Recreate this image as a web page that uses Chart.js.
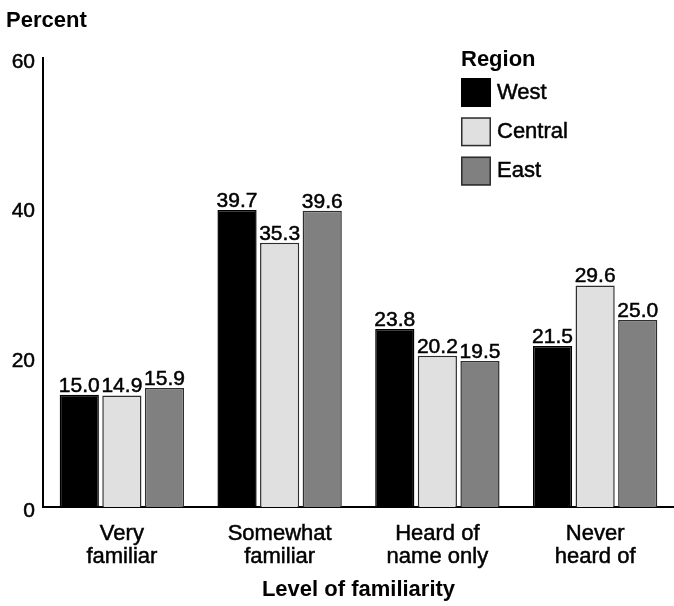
<!DOCTYPE html>
<html>
<head>
<meta charset="utf-8">
<script src="https://cdn.jsdelivr.net/npm/chart.js@4"></script>
<style>
  html, body { margin: 0; padding: 0; background: #ffffff; }
  #wrap { width: 674px; height: 606px; position: relative; }
</style>
</head>
<body>
<div id="wrap"><canvas id="chart" width="674" height="606"></canvas></div>
<script>
// Familiarity by region, in percent
const categories = [
  ['Very', 'familiar'],
  ['Somewhat', 'familiar'],
  ['Heard of', 'name only'],
  ['Never', 'heard of']
];
const regions = ['West', 'Central', 'East'];
const westValues = [15.0, 39.7, 23.8, 21.5];
const centralValues = [14.9, 35.3, 20.2, 29.6];
const eastValues = [15.9, 39.6, 19.5, 25.0];
const yTicks = [0, 20, 40, 60];

const regionFills = ['#000000', '#e0e0e0', '#808080'];
const regionBorders = ['#000000', '#2e2e2e', '#2e2e2e'];
const FONT = '"Liberation Sans", Arial, Helvetica, sans-serif';
const STROKE = 0.5;

const seriesValues = [westValues, centralValues, eastValues];

function heavyText(ctx, text, x, y) {
  ctx.fillText(text, x, y);
  ctx.strokeText(text, x, y);
}

// value labels above each bar
const barLabels = {
  id: 'barLabels',
  afterDatasetsDraw(chart) {
    const ctx = chart.ctx;
    ctx.save();
    ctx.font = '21px ' + FONT;
    ctx.fillStyle = '#000';
    ctx.strokeStyle = '#000';
    ctx.lineWidth = STROKE;
    ctx.textAlign = 'center';
    ctx.textBaseline = 'alphabetic';
    chart.data.datasets.forEach((ds, i) => {
      const meta = chart.getDatasetMeta(i);
      meta.data.forEach((bar, j) => {
        heavyText(ctx, ds.data[j].toFixed(1), bar.x, bar.y - 3);
      });
    });
    ctx.restore();
  }
};

// vertical axis caption and the region key
const extras = {
  id: 'extras',
  afterDraw(chart) {
    const ctx = chart.ctx;
    ctx.save();
    ctx.fillStyle = '#000';
    ctx.textAlign = 'left';
    ctx.textBaseline = 'alphabetic';
    ctx.font = 'bold 22px ' + FONT;
    ctx.fillText('Percent', 6, 27);

    const kx = 461, top0 = 78, step = 39.3;
    ctx.fillText('Region', kx, 66);
    ctx.font = '22px ' + FONT;
    chart.data.datasets.forEach((ds, i) => {
      const y = top0 + i * step;
      ctx.fillStyle = ds.backgroundColor;
      ctx.fillRect(kx, y, 30, 29);
      ctx.strokeStyle = ds.borderColor;
      ctx.lineWidth = 1.5;
      ctx.strokeRect(kx + 0.75, y + 0.75, 28.5, 27.5);
      ctx.fillStyle = '#000';
      ctx.strokeStyle = '#000';
      ctx.lineWidth = STROKE;
      heavyText(ctx, ds.label, kx + 36, y + 20.5);
    });
    ctx.restore();
  }
};

new Chart(document.getElementById('chart'), {
  type: 'bar',
  data: {
    labels: categories,
    datasets: regions.map((name, i) => ({
      label: name,
      data: seriesValues[i],
      backgroundColor: regionFills[i],
      borderColor: regionBorders[i],
      borderWidth: 1.5,
      categoryPercentage: 0.81,
      barPercentage: 0.92
    }))
  },
  options: {
    responsive: false,
    animation: false,
    layout: { padding: { top: 58, right: 0, bottom: 0, left: 0 } },
    plugins: {
      legend: { display: false },
      tooltip: { enabled: false },
      title: { display: false }
    },
    scales: {
      x: {
        grid: { display: false, drawTicks: false },
        border: { display: true, color: '#000', width: 2 },
        ticks: {
          color: '#000',
          font: { family: FONT, size: 22, lineHeight: 1.05 },
          textStrokeColor: '#000',
          textStrokeWidth: STROKE,
          padding: 15,
          maxRotation: 0,
          autoSkip: false
        },
        title: {
          display: true,
          text: 'Level of familiarity',
          color: '#000',
          font: { family: FONT, size: 22, weight: 'bold' },
          padding: { top: 0, bottom: 3 }
        },
        afterFit(scale) { scale.height = 99; }
      },
      y: {
        min: 0,
        max: 60,
        grid: { display: false, drawTicks: false },
        border: { display: true, color: '#000', width: 2 },
        afterBuildTicks(scale) { scale.ticks = yTicks.map(v => ({ value: v })); },
        ticks: {
          color: '#000',
          font: { family: FONT, size: 21 },
          textStrokeColor: '#000',
          textStrokeWidth: STROKE,
          padding: 8,
          labelOffset: 4
        },
        afterFit(scale) { scale.width = 43; }
      }
    }
  },
  plugins: [barLabels, extras]
});
</script>
</body>
</html>
